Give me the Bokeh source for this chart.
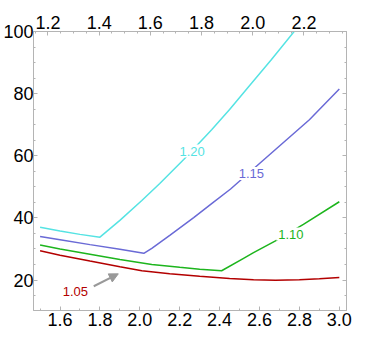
from bokeh.plotting import figure
from bokeh.models import (Range1d, LinearAxis, SingleIntervalTicker, CustomJSTickFormatter,
                          PrintfTickFormatter, Arrow, NormalHead, ColumnDataSource)
from bokeh.core.properties import value
from bokeh.embed import file_html
from bokeh.resources import INLINE

# ---- data ----
cyan_x = [1.50, 1.60, 1.70, 1.80, 1.90, 2.01, 2.10, 2.22, 2.30, 2.36, 2.45, 2.54, 2.66, 2.78]
cyan_y = [37.0, 35.8, 34.7, 33.8, 39.2, 45.6, 51.1, 58.8, 64.3, 68.4, 74.9, 81.8, 91.0, 100.5]

blue_x = [1.50, 1.60, 1.75, 1.90, 2.02, 2.06, 2.15, 2.27, 2.36, 2.455, 2.60, 2.69, 2.85, 3.00]
blue_y = [34.05, 33.0, 31.4, 29.9, 28.6, 30.2, 34.4, 40.1, 44.6, 49.3, 57.5, 62.6, 71.6, 81.5]

green_x = [1.50, 1.60, 1.75, 1.90, 2.06, 2.20, 2.30, 2.41, 2.52, 2.57, 2.68, 2.82, 3.00]
green_y = [31.3, 30.0, 28.3, 26.6, 25.0, 24.1, 23.5, 23.0, 27.0, 28.8, 32.6, 37.9, 45.2]

red_x = [1.50, 1.60, 1.75, 1.90, 2.01, 2.15, 2.30, 2.45, 2.57, 2.68, 2.80, 2.90, 3.00]
red_y = [29.4, 28.0, 26.1, 24.3, 23.0, 22.0, 21.2, 20.5, 20.1, 19.95, 20.1, 20.4, 20.8]

curve_colors = ["#55e3e3", "#6a6ad6", "#1db51d", "#b30000"]

label_text = ["1.20", "1.15", "1.10", "1.05"]
label_x = [2.262, 2.559, 2.757, 1.677]
label_y = [61.5, 54.3, 34.8, 16.4]

arrow_x = [1.769, 1.892]
arrow_y = [18.0, 22.0]

x_lo, x_hi = 1.467, 3.036
y_lo, y_hi = 10.2, 100.0
top_ratio = 1.283

# ---- figure ----
p = figure(width=366, height=340, x_range=Range1d(x_lo, x_hi), y_range=Range1d(y_lo, y_hi),
           output_backend="svg", toolbar_location=None,
           min_border_left=28, min_border_top=31, min_border_bottom=30, min_border_right=20)
p.grid.visible = False
p.outline_line_color = "#b4b4b4"
p.background_fill_color = "white"
p.border_fill_color = "white"

p.extra_x_ranges = {"top": Range1d(x_lo / top_ratio, x_hi / top_ratio)}

p.xaxis[0].ticker = SingleIntervalTicker(interval=0.2, num_minor_ticks=2)
p.xaxis[0].formatter = PrintfTickFormatter(format="%.1f")
p.yaxis[0].ticker = SingleIntervalTicker(interval=20, num_minor_ticks=4)

top = LinearAxis(x_range_name="top", ticker=SingleIntervalTicker(interval=0.2, num_minor_ticks=4),
                 formatter=PrintfTickFormatter(format="%.1f"))
p.add_layout(top, "above")
right = LinearAxis(ticker=SingleIntervalTicker(interval=20, num_minor_ticks=4),
                   formatter=CustomJSTickFormatter(code="return ''"))
p.add_layout(right, "right")

for ax in p.axis:
    ax.axis_line_color = "#b4b4b4"
    ax.major_tick_line_color = "#b4b4b4"
    ax.minor_tick_line_color = "#b4b4b4"
    ax.major_tick_in = 4
    ax.major_tick_out = 0
    ax.minor_tick_in = 2
    ax.minor_tick_out = 0
    ax.major_label_text_font = "Liberation Sans"
    ax.major_label_text_font_size = "18px"
    ax.major_label_text_color = "black"
    ax.major_label_standoff = 2
right.major_label_standoff = 0
top.major_label_standoff = 4
p.xaxis[0].major_label_standoff = 3
p.yaxis[0].major_label_standoff = 0

for xs, ys, c in zip([cyan_x, blue_x, green_x, red_x], [cyan_y, blue_y, green_y, red_y], curve_colors):
    p.line(xs, ys, line_color=c, line_width=1.5)

src = ColumnDataSource(dict(x=label_x, y=label_y, t=label_text, c=curve_colors))
p.text(x="x", y="y", text="t", text_color="c", source=src,
       text_font=value("Liberation Sans"), text_font_size="13px",
       text_align="center", text_baseline="middle",
       background_fill_color="white", padding=2)

p.add_layout(Arrow(end=NormalHead(size=9, fill_color="#999999", line_color="#999999"),
                   x_start=arrow_x[0], y_start=arrow_y[0], x_end=arrow_x[1], y_end=arrow_y[1],
                   line_color="#999999", line_width=2))

open("out.html", "w").write(file_html(p, INLINE))
